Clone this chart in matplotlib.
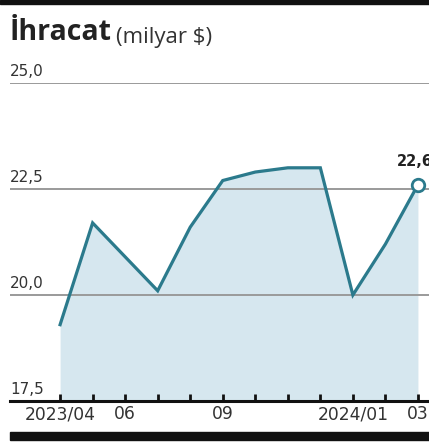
import matplotlib
matplotlib.use('Agg')
from matplotlib import pyplot as plt
from matplotlib import transforms
import numpy as np

months = ['2023/04', '05', '06', '07', '08', '09', '10', '11', '12', '2024/01', '02', '03']
exports = [19.3, 21.7, 20.9, 20.1, 21.6, 22.7, 22.9, 23.0, 23.0, 20.0, 21.2, 22.6]
shown_labels = {0: '2023/04', 2: '06', 5: '09', 9: '2024/01', 11: '03'}
yticks = [17.5, 20.0, 22.5, 25.0]

line_color = '#2b7a8c'
fill_color = '#d6e7ef'

plt.rcParams['font.family'] = ['Open Sans', 'DejaVu Sans']

W, H = 429, 442
fig = plt.figure(figsize=(W / 100, H / 100), dpi=100)

# axes: y=17.5 at 401px, y=25.0 at 83px
ax = fig.add_axes([10 / W, (H - 401) / H, 1 - 10 / W, (401 - 83) / H])
x = np.arange(len(months))
ax.set_xlim(-1.54, 11.34)
ax.set_ylim(17.5, 25.0)

ax.fill_between(x, 17.5, exports, color=fill_color, lw=0, zorder=1)
for v in yticks[1:]:
    ax.axhline(v, color='#9a9a9a', lw=1.4, zorder=2)
ax.plot(x, exports, color=line_color, lw=2.3, zorder=3, solid_joinstyle='miter')
ax.plot(x[-1], exports[-1], 'o', ms=9, mfc='white', mec=line_color, mew=2, zorder=4)
ax.annotate('22,6', (x[-1], exports[-1]), xytext=(-15, 17), textcoords='offset points',
            fontsize=10.5, fontweight='bold', color='#222222', ha='left', va='center',
            family='DejaVu Sans', annotation_clip=False)

trans = transforms.blended_transform_factory(ax.transAxes, ax.transData)
shift = transforms.ScaledTranslation(0, 4 / 100, fig.dpi_scale_trans)
for v in yticks:
    ax.text(0.0, v, f'{v:.1f}'.replace('.', ','), transform=trans + shift, fontsize=11,
            color='#333333', ha='left', va='bottom', zorder=5, family='DejaVu Sans')

ax.set_yticks([])
ax.set_xticks(x)
ax.set_xticklabels([shown_labels.get(i, '') for i in x], fontsize=12.3, color='#333333',
                   family='DejaVu Sans')
ax.tick_params(axis='x', direction='in', length=5, width=2, color='#111111', pad=3)
for s in ['top', 'left', 'right']:
    ax.spines[s].set_visible(False)
ax.spines['bottom'].set_linewidth(2.2)
ax.spines['bottom'].set_color('#111111')
ax.set_facecolor('none')

# title
fig.text(10 / W, 1 - 32 / H, 'İhracat', fontsize=20.5, fontweight='bold', color='#222222',
         ha='left', va='center')
fig.text(116 / W, 1 - 38 / H, '(milyar $)', fontsize=16, color='#333333',
         ha='left', va='center')

# black bars at top and bottom
fig.patches.append(plt.Rectangle((0, 1 - 4 / H), 1, 4 / H, transform=fig.transFigure,
                                 color='#111111', zorder=10))
fig.patches.append(plt.Rectangle((10 / W, 1 - 440 / H), 1, 8 / H, transform=fig.transFigure,
                                 color='#111111', zorder=10))

fig.savefig('out.png', dpi=100)
